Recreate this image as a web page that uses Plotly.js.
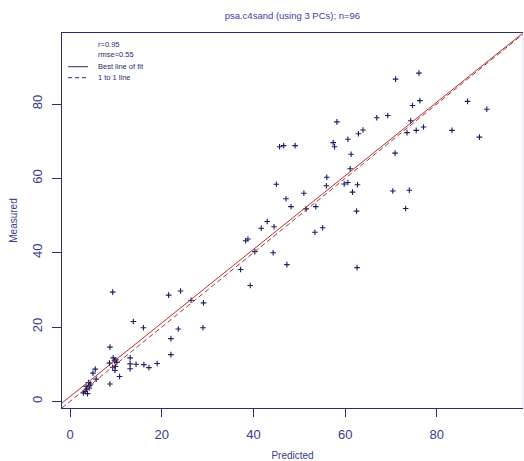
<!DOCTYPE html>
<html>
<head>
<meta charset="utf-8">
<script src="https://cdn.plot.ly/plotly-3.0.1.min.js"></script>
<style>
html,body{margin:0;padding:0;background:#fff;}
#chart{width:524px;height:461px;}
</style>
</head>
<body>
<div id="chart"></div>
<script>
// ---- data ----
const predicted = [
  2.9, 3.8, 3.3, 4.2, 3.5, 4.5, 4.0, 5.7, 5.0, 5.5,
  8.7, 10.8, 9.8, 9.3, 8.6, 10.2, 10.0, 9.4, 8.7, 9.3,
  13.1, 13.1, 13.1, 14.4, 16.1, 17.2, 19.0, 13.8, 16.0, 22.0,
  22.0, 23.6, 21.5, 24.1, 26.4, 29.1, 29.0, 37.2, 39.3, 38.3,
  38.8, 40.3, 41.7, 43.0, 44.5, 44.3, 47.3, 45.0, 47.1, 48.2,
  51.0, 51.5, 53.6, 53.4, 55.1, 56.0, 55.9, 59.8, 60.6, 62.7,
  61.6, 62.5, 62.6, 61.1, 61.3, 45.7, 46.6, 49.1, 57.4, 57.7,
  60.6, 62.9, 63.9, 58.2, 66.9, 69.3, 71.0, 76.1, 74.7, 76.3,
  74.3, 73.5, 75.5, 77.1, 83.3, 89.3, 86.7, 90.9, 70.9, 70.4,
  74.0, 73.2, 9.7, 4.3, 3.6, 9.9
];
const measured = [
  2.3, 2.1, 2.7, 3.6, 4.0, 4.7, 5.1, 6.0, 7.6, 8.7,
  4.7, 6.7, 8.3, 9.2, 10.3, 10.5, 11.2, 11.7, 14.6, 29.4,
  11.7, 10.1, 8.8, 10.0, 9.9, 9.1, 10.2, 21.5, 19.8, 16.9,
  12.6, 19.5, 28.6, 29.7, 27.2, 26.5, 19.8, 35.5, 31.2, 43.2,
  43.7, 40.3, 46.6, 48.4, 47.0, 40.0, 36.8, 58.4, 54.5, 52.4,
  56.0, 51.8, 52.4, 45.5, 46.7, 60.3, 58.0, 58.5, 58.9, 58.3,
  56.3, 51.2, 36.0, 62.6, 66.5, 68.5, 68.8, 68.8, 69.6, 68.5,
  70.5, 72.0, 73.0, 75.2, 76.3, 76.9, 86.7, 88.3, 79.6, 80.9,
  75.5, 72.3, 72.9, 73.8, 72.9, 71.1, 80.7, 78.6, 66.8, 56.6,
  56.8, 51.9, 10.9, 4.3, 3.3, 9.4
];
const fitIntercept = 1.3;
const fitSlope = 0.99;
const statLabels = ["r=0.95", "rmse=0.55"];
const lineLabels = ["Best line of fit", "1 to 1 line"];
const chartTitle = "psa.c4sand (using 3 PCs); n=96";
const xTicks = [0, 20, 40, 60, 80];
const yTicks = [0, 20, 40, 60, 80];

// ---- layout geometry ----
const W = 524, H = 461;
const L = 62, R = 523, T = 33, B = 408;
const xRange = [-1.76, 98.8];
const yRange = [-1.77, 99.1];
const px = x => (x - L) / (R - L);
const py = y => (B - y) / (B - T);

const navy = '#2b2b72';
const txt = '#3a3a8e';
const fam = 'Liberation Sans, Arial, sans-serif';

const fitX = xRange.slice();
const fitY = fitX.map(v => fitIntercept + fitSlope * v);

const traces = [
  {
    x: predicted, y: measured, type: 'scatter', mode: 'markers',
    marker: {symbol: 'cross-thin', size: 4, line: {width: 1.1, color: '#1c1c5e'}, color: '#1c1c5e'},
    hoverinfo: 'x+y', showlegend: false
  },
  {
    x: fitX, y: fitY, type: 'scatter', mode: 'lines',
    line: {color: '#b23030', width: 1}, showlegend: false
  },
  {
    x: xRange, y: xRange, type: 'scatter', mode: 'lines',
    line: {color: '#9a3a3a', width: 1, dash: '5px,3px'}, showlegend: false
  }
];

const legRows = [44, 55, 66.7, 77.7];
const annFont = {family: fam, size: 7.5, color: '#2a2a70'};
const annotations = [
  {text: statLabels[0], x: px(96), y: py(legRows[0])},
  {text: statLabels[1], x: px(96), y: py(legRows[1])},
  {text: lineLabels[0], x: px(96), y: py(legRows[2])},
  {text: lineLabels[1], x: px(96), y: py(legRows[3])}
].map(a => Object.assign(a, {xref: 'paper', yref: 'paper', xanchor: 'left', yanchor: 'middle', showarrow: false, font: annFont}));

const shapes = [
  {type: 'line', xref: 'paper', yref: 'paper', x0: px(68), x1: px(88), y0: py(legRows[2]), y1: py(legRows[2]), line: {color: '#2a2a70', width: 1}},
  {type: 'line', xref: 'paper', yref: 'paper', x0: px(68), x1: px(88), y0: py(legRows[3]), y1: py(legRows[3]), line: {color: '#2a2a70', width: 1, dash: '4px,3px'}},
  {type: 'line', xref: 'paper', yref: 'paper', x0: 1, x1: 1, y0: 0, y1: 1, line: {color: '#e2e2f6', width: 1}}
];

const layout = {
  width: W, height: H,
  margin: {l: L, r: W - R, t: T, b: H - B, pad: 0},
  paper_bgcolor: '#fff', plot_bgcolor: '#fff',
  showlegend: false,
  title: {text: chartTitle, font: {family: fam, size: 9.5, color: '#3c3ca2'}, x: 0.558, xanchor: 'center', y: 1 - 16 / H, yanchor: 'middle'},
  xaxis: {
    range: xRange, tickvals: xTicks, ticktext: xTicks.map(String),
    showgrid: false, zeroline: false, showline: true, linecolor: navy, linewidth: 1.3, mirror: true,
    ticks: 'outside', ticklen: 8, tickcolor: navy, tickwidth: 1, ticklabelstandoff: 6,
    tickfont: {family: fam, size: 13, color: txt},
    title: {text: 'Predicted', font: {family: fam, size: 10, color: txt}, standoff: 12}
  },
  yaxis: {
    range: yRange, tickvals: yTicks, ticktext: yTicks.map(String),
    showgrid: false, zeroline: false, showline: true, linecolor: navy, linewidth: 1.3,
    ticks: 'outside', ticklen: 9, tickcolor: navy, tickwidth: 1, tickangle: -90, ticklabelstandoff: 5,
    tickfont: {family: fam, size: 13, color: txt},
    title: {text: 'Measured', font: {family: fam, size: 10, color: txt}, standoff: 10}
  },
  annotations: annotations,
  shapes: shapes
};

Plotly.newPlot('chart', traces, layout, {displayModeBar: false, staticPlot: true});
</script>
</body>
</html>
